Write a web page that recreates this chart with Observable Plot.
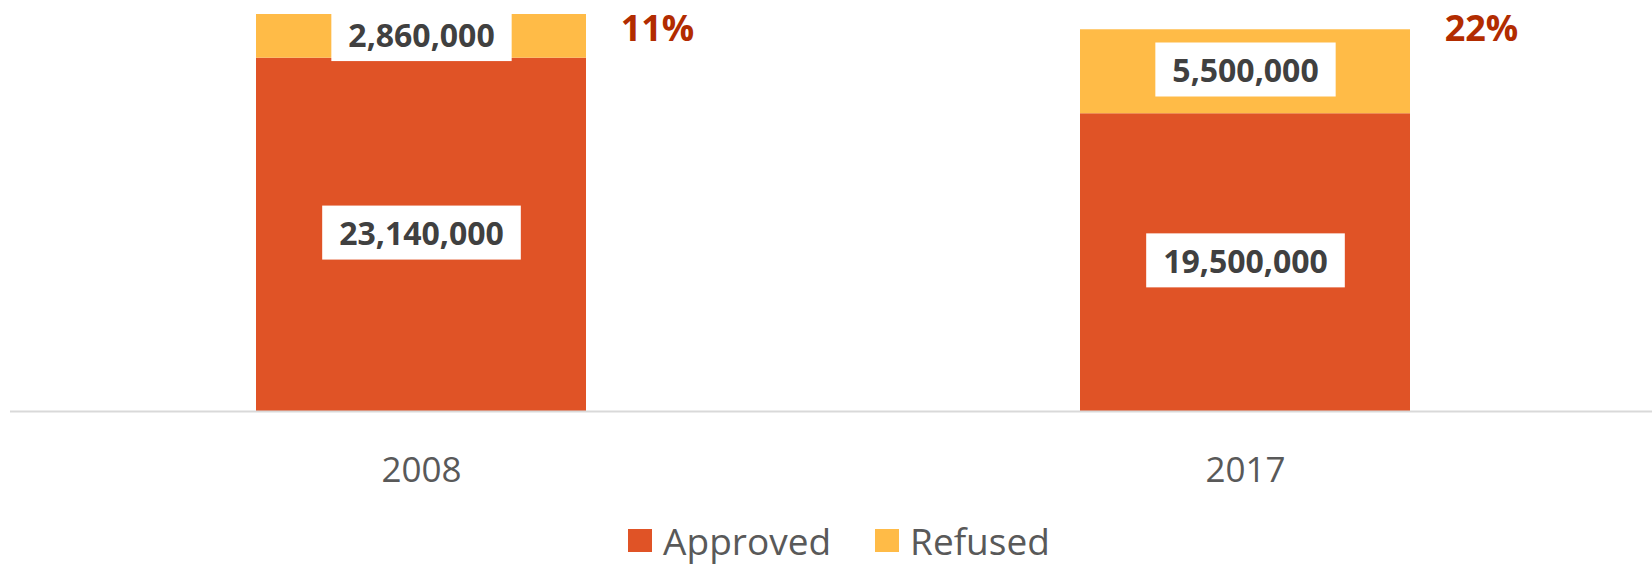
<!DOCTYPE html>
<html>
<head>
<meta charset="utf-8">
<script src="https://cdn.jsdelivr.net/npm/d3@7"></script>
<script src="https://cdn.jsdelivr.net/npm/@observablehq/plot@0.6"></script>
<style>
  html, body { margin: 0; padding: 0; background: #fff; }
  #chart { width: 1652px; }
  .legend { height: 70px; display: flex; justify-content: center; align-items: center;
    padding-top: 10px; padding-left: 26px; box-sizing: border-box;
    font-family: "Open Sans", sans-serif; font-size: 37px; color: #595959; }
  .legend .item { display: flex; align-items: center; margin: 0 22px; }
  .legend .sw { width: 24px; height: 23px; margin-right: 11px; }
</style>
</head>
<body>
<div id="chart"></div>
<script>
const years = ["2008", "2017"];
const seriesNames = ["Approved", "Refused"];
const approved = [23140000, 19500000];
const refused = [2860000, 5500000];
const refusedShare = ["11%", "22%"];
const seriesColors = ["#E05326", "#FFBB47"];

const table = [];
years.forEach((y, i) => {
  table.push({year: y, status: "Approved", value: approved[i]});
  table.push({year: y, status: "Refused", value: refused[i]});
});
const fmt = d3.format(",");

const plot = Plot.plot({
  width: 1652,
  height: 500,
  marginTop: 14,
  marginBottom: 89,
  marginLeft: 10,
  marginRight: -4,
  style: {fontFamily: "Open Sans, sans-serif", background: "#fff", overflow: "visible"},
  x: {domain: years, paddingInner: 0.5995, paddingOuter: 0.2985, label: null},
  y: {domain: [0, 26000000], axis: null},
  color: {domain: seriesNames, range: seriesColors},
  marks: [
    Plot.barY(table, Plot.stackY({x: "year", y: "value", fill: "status"})),
    Plot.ruleY([0], {stroke: "#D9D9D9", strokeWidth: 2}),
    Plot.axisX({tickSize: 0, tickPadding: 46, fontSize: 35, fill: "#595959", label: null}),
    Plot.text(table, Plot.stackY({
      x: "year", y: "value", z: "status",
      text: d => fmt(d.value),
      fontSize: 32, fontWeight: "bold", fill: "#404040",
      lineAnchor: "middle"
    })),
    Plot.text(years, {
      x: d => d, text: (d, i) => refusedShare[i],
      frameAnchor: "top", lineAnchor: "middle", dy: 15, dx: 236,
      fontSize: 36, fontWeight: "bold", fill: "#B22C00"
    })
  ]
});
document.getElementById("chart").appendChild(plot);

// white boxes behind the segment labels, sized from the rendered text
const textGroups = plot.querySelectorAll('g[aria-label="text"]');
const g = textGroups[0];
if (g) {
  g.querySelectorAll("text").forEach(t => {
    const b = t.getBBox();
    const cy = b.y + b.height / 2;
    const r = document.createElementNS("http://www.w3.org/2000/svg", "rect");
    r.setAttribute("x", b.x - 17);
    r.setAttribute("width", b.width + 34);
    r.setAttribute("y", cy - 27);
    r.setAttribute("height", 54);
    r.setAttribute("fill", "#fff");
    const tr = t.getAttribute("transform");
    if (tr) r.setAttribute("transform", tr);
    g.insertBefore(r, t);
  });
}

// legend below the chart
const legend = document.createElement("div");
legend.className = "legend";
seriesNames.forEach((name, i) => {
  const item = document.createElement("div");
  item.className = "item";
  const sw = document.createElement("div");
  sw.className = "sw";
  sw.style.background = seriesColors[i];
  const label = document.createElement("span");
  label.textContent = name;
  item.appendChild(sw);
  item.appendChild(label);
  legend.appendChild(item);
});
document.body.appendChild(legend);
</script>
</body>
</html>
